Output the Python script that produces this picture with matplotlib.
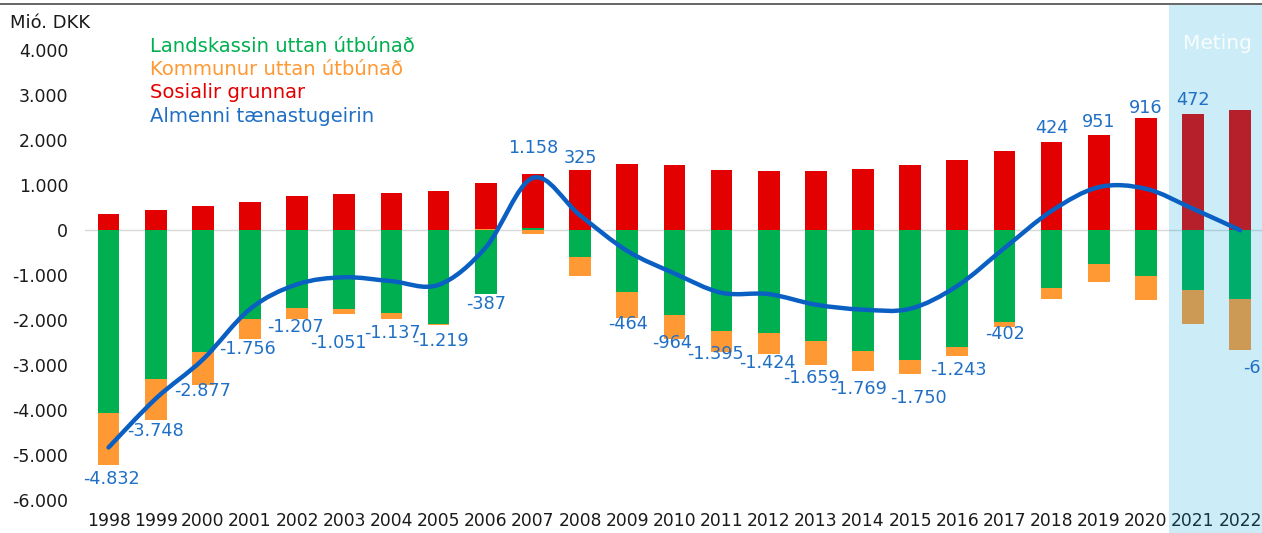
import matplotlib
matplotlib.use("Agg")
import matplotlib.pyplot as plt
import numpy as np
from matplotlib.path import Path
from matplotlib.patches import PathPatch, Rectangle
from matplotlib.transforms import blended_transform_factory
from matplotlib.ticker import FuncFormatter

# ---------------- data ----------------
years = list(range(1998, 2023))
landskassin = [-4074, -3304, -2711, -1970, -1741, -1763, -1852, -2081, -1422, 44,
               -607, -1378, -1881, -2237, -2289, -2474, -2678, -2885, -2606, -2054,
               -1299, -748, -1020, -1329, -1526]
kommunur = [-1141, -918, -726, -445, -237, -96, -118, -23, 15, -89,
            -422, -578, -548, -474, -474, -526, -457, -317, -189, -91,
            -242, -408, -528, -763, -1148]
sosialir = [356, 437, 541, 622, 763, 793, 815, 859, 1022, 1193,
            1326, 1467, 1452, 1326, 1311, 1311, 1360, 1450, 1563, 1745,
            1964, 2122, 2485, 2568, 2666]
almenni = [-4832, -3748, -2877, -1756, -1207, -1051, -1137, -1219, -387, 1158,
           325, -464, -964, -1395, -1424, -1659, -1769, -1750, -1243, -402,
           424, 951, 916, 472, -6]
series_names = ["Landskassin uttan útbúnað", "Kommunur uttan útbúnað",
                "Sosialir grunnar", "Almenni tænastugeirin"]
yticks = list(range(-6000, 4001, 1000))
forecast_label = "Meting"
unit_label = "Mió. DKK"

# ---------------- layout / style ----------------
W, H = 1262, 533
C_GREEN = "#00b050"
C_ORANGE = "#ff9933"
C_RED = "#e30000"
C_LINE = "#0a60c2"
C_LABEL = "#1f6fc5"
# data-label placement (index offsets, value-unit positions)
label_xy = [(0.07, -5533), (0.99, -4467), (2.0, -3578), (2.94, -2644), (3.96, -2156),
            (4.87, -2511), (6.01, -2289), (7.03, -2467), (8.01, -1644), (9.0, 1822),
            (10.0, 1600), (11.02, -2089), (11.95, -2511), (12.88, -2760), (13.97, -2960),
            (14.9, -3280), (15.9, -3530), (17.17, -3733), (18.02, -3111), (19.01, -2311),
            (20.01, 2267), (20.99, 2400), (22.0, 2711), (23.0, 2889), (24.25, -3067)]

fig = plt.figure(figsize=(W / 100, H / 100), dpi=100)
ax_left, ax_bottom_px, ax_top_px = 85, 505, 5
ax = fig.add_axes([ax_left / W, (H - ax_bottom_px) / H, (W - ax_left) / W,
                   (ax_bottom_px - ax_top_px) / H])
spacing = 47.15
zero_px = 230
px_per_unit = 45 / 1000
ax.set_xlim(-0.5, -0.5 + (W - ax_left) / spacing)
ax.set_ylim((zero_px - ax_bottom_px) / px_per_unit, (zero_px - ax_top_px) / px_per_unit)

x = np.arange(len(years))
bw = 0.46
pos_bottom = np.zeros(len(years))
neg_bottom = np.zeros(len(years))
for vals, col in [(landskassin, C_GREEN), (kommunur, C_ORANGE), (sosialir, C_RED)]:
    v = np.array(vals, dtype=float)
    bottom = np.where(v >= 0, pos_bottom, neg_bottom)
    ax.bar(x, v, bw, bottom=bottom, color=col, zorder=2, linewidth=0)
    pos_bottom += np.where(v >= 0, v, 0)
    neg_bottom += np.where(v < 0, v, 0)

ax.axhline(0, color="#d9d9d9", lw=1, zorder=1)

# forecast shading (semi-transparent overlay)
trans = blended_transform_factory(ax.transData, fig.transFigure)
n_fore = 2
ax.add_patch(Rectangle((len(years) - n_fore - 0.5, 0), 10, 1 - 4.5 / H, transform=trans,
                       facecolor=(0.0, 0.63, 0.86), alpha=0.2, linewidth=0,
                       clip_on=False, zorder=3))

# smoothed line (Catmull-Rom Bezier, like Excel smooth lines)
pts = np.column_stack([x, almenni]).astype(float)
n = len(pts)
verts = [tuple(pts[0])]
codes = [Path.MOVETO]
for i in range(n - 1):
    p0 = pts[i - 1] if i > 0 else pts[i]
    p1 = pts[i]
    p2 = pts[i + 1]
    p3 = pts[i + 2] if i + 2 < n else pts[i + 1]
    c1 = p1 + (p2 - p0) / 6.0
    c2 = p2 - (p3 - p1) / 6.0
    verts += [tuple(c1), tuple(c2), tuple(p2)]
    codes += [Path.CURVE4] * 3
ax.add_patch(PathPatch(Path(verts, codes), fill=False, edgecolor=C_LINE, lw=3.2,
                       capstyle="round", joinstyle="round", zorder=4))

fmt = lambda v: f"{int(v):,}".replace(",", ".")
for (lx, ly), v in zip(label_xy, almenni):
    ax.text(lx, ly, fmt(v), ha="center", va="center", color=C_LABEL,
            fontsize=12.7, zorder=5, clip_on=False)

ax.set_xticks(x)
ax.set_xticklabels([str(y) for y in years], fontsize=12.3, color="#1a1a1a")
ax.set_yticks(yticks)
ax.yaxis.set_major_formatter(FuncFormatter(lambda v, p: fmt(v)))
ax.tick_params(axis="y", length=0, pad=12, labelsize=12.5, labelcolor="#1a1a1a")
ax.tick_params(axis="x", length=0, pad=5)
for s in ax.spines.values():
    s.set_visible(False)
ax.patch.set_alpha(0)

# legend as coloured texts
for i, (name, col) in enumerate(zip(series_names, [C_GREEN, C_ORANGE, C_RED, C_LABEL])):
    fig.text(150 / W, 1 - (46 + i * 23.5) / H, name, color=col, fontsize=14.1,
             ha="left", va="center")

fig.text(10 / W, 1 - 23 / H, unit_label, fontsize=13, color="#1a1a1a", ha="left", va="center")
fig.text(1217 / W, 1 - 43 / H, forecast_label, fontsize=14.5, color="white", alpha=0.85,
         ha="center", va="center", zorder=6)

# top border line
fig.add_artist(plt.Line2D([0, 1], [1 - 3.5 / H, 1 - 3.5 / H], transform=fig.transFigure,
                          color="#595959", lw=1.3))

fig.savefig("out.png", dpi=100)
